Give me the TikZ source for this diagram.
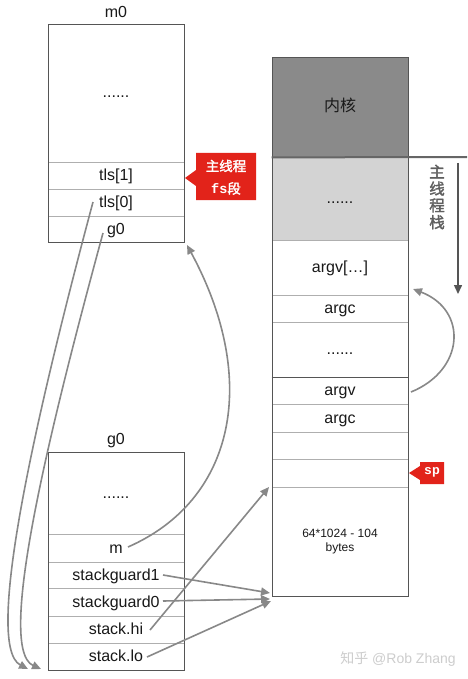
\documentclass[tikz,border=0pt]{standalone}
\usepackage{fontspec}
\setmainfont{Liberation Sans}
\newfontfamily\cjk{Noto Sans CJK SC}
\newfontfamily\cjkb[FakeBold=2]{Noto Sans CJK SC}
\newfontfamily\monob{Liberation Mono Bold}
\usetikzlibrary{arrows.meta}
\definecolor{divgray}{RGB}{175,175,175}
\definecolor{boxgray}{RGB}{85,85,85}
\definecolor{arrgray}{RGB}{136,136,136}
\definecolor{kernelfill}{RGB}{138,138,138}
\definecolor{lightfill}{RGB}{211,211,211}
\definecolor{txt}{RGB}{25,25,25}
\definecolor{calred}{RGB}{226,35,26}
\definecolor{wmgray}{RGB}{205,205,205}
\definecolor{vgray}{RGB}{95,95,95}
\tikzset{
  row/.style={draw=divgray, line width=0.8pt, minimum width=136pt, inner sep=0pt, text=txt, font=\fontsize{16}{19}\selectfont, text height=12.5pt, text depth=2.5pt},
  outer/.style={draw=boxgray, line width=1.2pt, inner sep=0pt, anchor=north west},
  lbl/.style={text=txt, font=\fontsize{16}{19}\selectfont, inner sep=0pt, text height=12.5pt, text depth=2.5pt},
  conn/.style={draw=arrgray, line width=1.6pt, -{Triangle[length=9pt,width=8pt]}},
}
\begin{document}
\begin{tikzpicture}[x=1pt,y=-1pt]
\useasboundingbox[fill=white] (0,0) rectangle (467,679);

% ---------- m0 ----------
\node[lbl] (m0lbl) at (116,13) {m0};
\node[row, minimum height=138pt] (m0dots) at (116,93) {......};
\node[row, minimum height=27pt] (tlsone) at (116,175.5) {tls[1]};
\node[row, minimum height=27pt] (tlszero) at (116,202.5) {tls[0]};
\node[row, minimum height=26pt] (mg0) at (116,229) {g0};
\node[outer, minimum width=136pt, minimum height=218pt] (m0) at (48,24) {};

% fs callout
\fill[calred] (196,153) -- (256,153) -- (256,200) -- (196,200) -- (196,186) -- (185,178) -- (196,170) -- cycle;
\node[text=white, inner sep=0pt, font=\cjkb\fontsize{13.5}{16}\selectfont] (fsA) at (226,166) {主线程};
\node[text=white, inner sep=0pt, font=\fontsize{13.5}{16}\selectfont] (fsB) at (226,188.5) {{\monob fs}{\cjkb 段}};

% ---------- g0 ----------
\node[lbl] (g0lbl) at (116,439) {g0};
\node[row, minimum height=82pt] (gdots) at (116,493) {......};
\node[row, minimum height=28pt] (gm) at (116,548) {m};
\node[row, minimum height=26pt] (gsgone) at (116,575) {stackguard1};
\node[row, minimum height=28pt] (gsgzero) at (116,602) {stackguard0};
\node[row, minimum height=27pt] (ghi) at (116,629.5) {stack.hi};
\node[row, minimum height=27pt] (glo) at (116,656.5) {stack.lo};
\node[outer, minimum width=136pt, minimum height=218pt] (g0) at (48,452) {};

% ---------- stack ----------
\node[row, draw=boxgray, fill=kernelfill, minimum height=100pt, font=\cjk\fontsize{16}{19}\selectfont] (kern) at (340,107) {内核};
\node[row, fill=lightfill, minimum height=83pt] (sdots) at (340,198.5) {......};
\node[row, minimum height=55pt] (sargvx) at (340,267.5) {argv[…]};
\node[row, minimum height=27pt] (sargcA) at (340,308.5) {argc};
\node[row, minimum height=55pt] (sdotsB) at (340,349.5) {......};
\node[row, minimum height=27pt] (sargv) at (340,390.5) {argv};
\node[row, minimum height=28pt] (sargcB) at (340,418) {argc};
\node[row, minimum height=27pt] (sblankA) at (340,445.5) {};
\node[row, minimum height=28pt] (sblankB) at (340,473) {};
\node[row, minimum height=109pt, align=center, font=\fontsize{12}{14}\selectfont, text height=, text depth=] (sbig) at (340,542) {64*1024 - 104\\bytes};
\node[outer, minimum width=136pt, minimum height=539pt] (stk) at (272,57) {};
\draw[boxgray, line width=1.2pt] (sdotsB.south west) -- (sdotsB.south east);
\coordinate (kline) at (467,157);
\draw[boxgray!90, line width=2pt] (kern.south west) -- (kline);

% vertical label + arrow
\node[text=vgray, inner sep=0pt, align=center, font=\cjkb\fontsize{15.5}{16.8}\selectfont] (vlab) at (437,197) {主\\线\\程\\栈};
\coordinate (vtop) at (458,163);
\coordinate (vbot) at (458,294);
\draw[draw=boxgray, line width=1.5pt, -{Triangle[length=9pt,width=8pt]}] (vtop) -- (vbot);

% sp callout
\fill[calred] (420,462) -- (444,462) -- (444,484) -- (420,484) -- (420,480) -- (409,473) -- (420,466) -- cycle;
\node[text=white, inner sep=0pt, font=\monob\fontsize{13}{15}\selectfont] (sptxt) at (432,472) {sp};

% ---------- connectors ----------
\coordinate (tlsS) at (93,202);
\coordinate (tlsE) at (28,669);
\coordinate (mgS) at (103,233);
\coordinate (mgE) at (41,669);
\coordinate (gmS) at (128,547);
\coordinate (gmE) at (187,245);
\coordinate (sg1S) at (163,575);
\coordinate (sg1E) at (270,593);
\coordinate (sg0S) at (163,601);
\coordinate (sg0E) at (270,599);
\coordinate (hiS) at (150,630);
\coordinate (hiE) at (269,487);
\coordinate (loS) at (147,657);
\coordinate (loE) at (271,601);
\coordinate (avS) at (411,392);
\coordinate (avE) at (413,289);

\draw[conn] (tlsS) .. controls (40,400) and (-18,645) .. (tlsE);
\draw[conn] (mgS) .. controls (55,410) and (-6,648) .. (mgE);
\draw[conn] (gmS) .. controls (235,500) and (260,380) .. (gmE);
\draw[conn] (sg1S) -- (sg1E);
\draw[conn] (sg0S) -- (sg0E);
\draw[conn] (hiS) -- (hiE);
\draw[conn] (loS) -- (loE);
\draw[conn] (avS) .. controls (465,370) and (468,310) .. (avE);

% watermark
\node[text=wmgray, inner sep=0pt, font=\fontsize{14}{16}\selectfont] (wm) at (398,659) {{\cjk 知乎} @Rob Zhang};
\end{tikzpicture}
\end{document}
